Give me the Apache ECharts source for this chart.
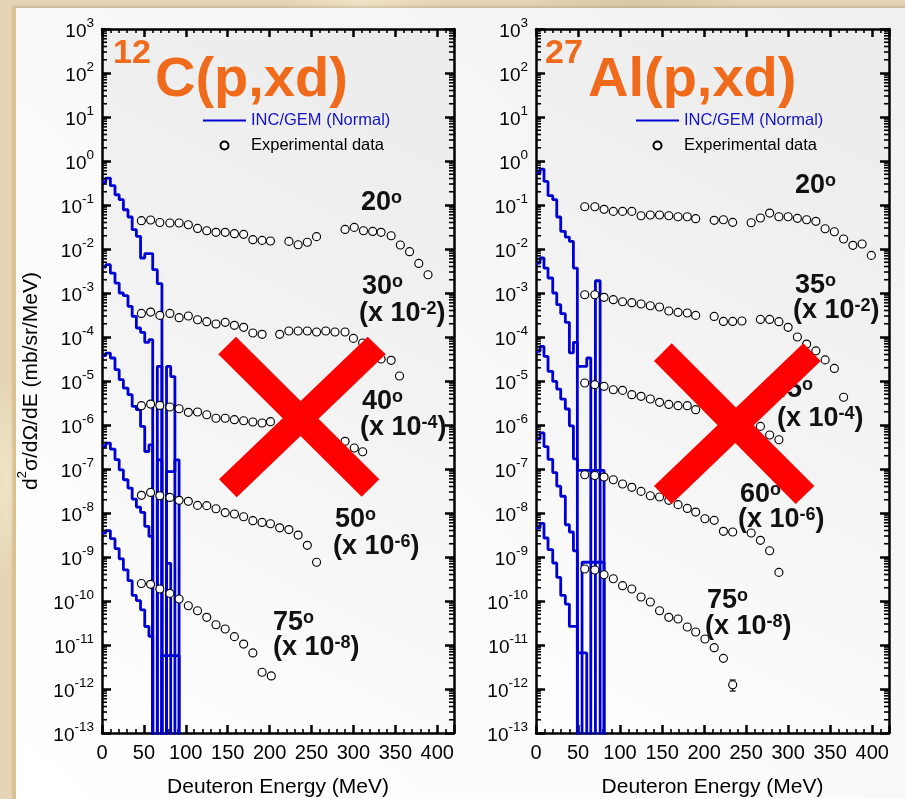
<!DOCTYPE html>
<html>
<head>
<meta charset="utf-8">
<script src="https://cdn.jsdelivr.net/npm/echarts@6/dist/echarts.min.js"></script>
<style>
html,body{margin:0;padding:0;width:905px;height:799px;overflow:hidden;}
body{background:#e5d5b4;
 background-image:
  radial-gradient(circle at 12% 18%, rgba(255,250,235,.55) 0, rgba(255,250,235,0) 9%),
  radial-gradient(circle at 70% 4%, rgba(200,180,140,.45) 0, rgba(200,180,140,0) 12%),
  radial-gradient(circle at 3% 60%, rgba(250,240,215,.6) 0, rgba(250,240,215,0) 10%),
  radial-gradient(circle at 40% 1%, rgba(245,235,210,.6) 0, rgba(245,235,210,0) 8%);}
#card{position:absolute;left:13px;top:8px;width:892px;height:791px;
 border-left:3px solid #dcc08e;
 background:linear-gradient(to top right,#ffffff 0%,#fbfbfb 40%,#f0f0f0 100%);
 box-shadow:0 -1px 3px rgba(120,100,60,.35);}
#chart{position:absolute;left:0;top:0;width:905px;height:799px;}
</style>
</head>
<body>
<div id="card"></div>
<div id="chart"></div>
<script>
// ---------------- tick labels ----------------
const xTickLabels = [0, 50, 100, 150, 200, 250, 300, 350, 400];
const yDecadeMin = -13;          // 10^-13
const yDecadeMax = 3;            // 10^3
const yMinorMantissas = [2, 3, 4, 5, 6, 7, 8, 9];

// ---------------- 12C(p,xd) : INC/GEM histograms ----------------
const L_binEdges = [0, 4.5, 10, 15.5, 20.5, 25.5, 31, 36, 41, 46, 51, 56, 60.5, 66, 71.5, 77, 82, 87, 92];
const L_hist20 = [0.327, 0.41, 0.275, 0.171, 0.132, 0.078, 0.0533, 0.0275, 0.0194, 0.00624, 0.00782, 0.00782, 0.00339, 0.00163, 0, 0, 0, 0];
const L_hist30 = [3.89e-3, 4.4e-3, 2.84e-3, 1.68e-3, 1.0e-3, 8.7e-4, 4.97e-4, 2.94e-4, 1.6e-4, 1.27e-4, 7.55e-5, 8.7e-5, 0, 2.14e-5, 0, 2.14e-5, 1.26e-5, 0];
const L_hist40 = [3.76e-5, 4.32e-5, 3.33e-5, 1.81e-5, 1.07e-5, 6.9e-6, 4.89e-6, 2.65e-6, 2.23e-6, 9.3e-7, 2.5e-7, 3.55e-7, 0, 1.62e-7, 0, 8.7e-8, 8.7e-8, 1.62e-7];
const L_hist50 = [3.27e-7, 3.89e-7, 2.84e-7, 1.63e-7, 9.6e-8, 5.7e-8, 3.69e-8, 2.07e-8, 1.36e-8, 1.03e-8, 4.97e-9, 2.94e-9, 0, 0, 0, 7.2e-10, 0, 0];
const L_hist75 = [3.5e-9, 3.98e-9, 2.61e-9, 1.55e-9, 9.1e-10, 5.1e-10, 2.89e-10, 1.34e-10, 1.02e-10, 6.3e-11, 2.63e-11, 1.58e-11, 0, 0, 5.75e-12, 5.75e-12, 5.75e-12, 5.75e-12];

// ---------------- 12C(p,xd) : experimental data ----------------
const L_E20 = [47, 58, 69, 81, 92, 103, 114, 125, 136, 147, 158, 169, 180, 191, 201, 223, 234, 245, 256, 290, 301, 312, 323, 333, 345, 356, 367, 378, 389];
const L_V20 = [0.044, 0.0455, 0.040, 0.039, 0.039, 0.0356, 0.0294, 0.026, 0.0239, 0.0239, 0.0223, 0.0215, 0.0163, 0.0157, 0.0152, 0.0149, 0.0125, 0.0142, 0.0191, 0.0279, 0.031, 0.026, 0.0251, 0.0239, 0.020, 0.0123, 0.0087, 0.0047, 0.0026];
const L_E30 = [47, 58, 69, 81, 92, 103, 114, 125, 136, 147, 158, 169, 180, 191, 212, 223, 234, 245, 256, 267, 278, 290, 300, 311, 333, 345, 355];
const L_V30 = [3.44e-4, 3.69e-4, 3.10e-4, 3.44e-4, 2.75e-4, 3.0e-4, 2.47e-4, 2.23e-4, 1.97e-4, 2.15e-4, 1.84e-4, 1.66e-4, 1.23e-4, 1.15e-4, 1.15e-4, 1.37e-4, 1.37e-4, 1.37e-4, 1.30e-4, 1.37e-4, 1.30e-4, 1.30e-4, 9.3e-5, 7.3e-5, 3.16e-5, 2.95e-5, 1.30e-5];
const L_E40 = [47, 58, 69, 81, 92, 103, 114, 125, 136, 147, 158, 169, 180, 191, 201, 290, 301, 311];
const L_V40 = [2.75e-6, 2.99e-6, 2.79e-6, 2.56e-6, 2.34e-6, 1.94e-6, 1.97e-6, 1.71e-6, 1.42e-6, 1.42e-6, 1.32e-6, 1.25e-6, 1.17e-6, 1.11e-6, 1.19e-6, 4.25e-7, 3.0e-7, 2.47e-7];
const L_E50 = [47, 58, 69, 81, 92, 103, 114, 125, 136, 147, 158, 169, 180, 191, 201, 212, 223, 234, 245, 256];
const L_V50 = [2.52e-8, 2.94e-8, 2.47e-8, 2.26e-8, 1.94e-8, 1.84e-8, 1.49e-8, 1.47e-8, 1.25e-8, 1.02e-8, 9.5e-9, 8.2e-9, 6.7e-9, 6.1e-9, 5.7e-9, 4.6e-9, 4.2e-9, 3.15e-9, 1.84e-9, 7.6e-10];
const L_E75 = [47, 58, 69, 81, 92, 103, 114, 125, 136, 147, 158, 169, 180, 191, 202];
const L_V75 = [2.5e-10, 2.39e-10, 1.87e-10, 1.49e-10, 1.11e-10, 7.8e-11, 6.0e-11, 4.25e-11, 2.89e-11, 2.31e-11, 1.55e-11, 1.05e-11, 6.6e-12, 2.4e-12, 1.98e-12];

// ---------------- 27Al(p,xd) : INC/GEM histograms ----------------
const R_binEdges = [0, 4.8, 9.5, 14.3, 19.9, 24.7, 29.4, 34.9, 39.7, 44.5, 49.2, 54.8, 60.4, 65.2, 70.7, 76.3, 81];
const R_hist20 = [0.533, 0.656, 0.344, 0.163, 0.132, 0.0533, 0.0252, 0.0187, 0.0149, 0.00369, 0, 0, 0, 0, 0.0019, 0];
const R_hist35 = [4.8e-3, 6.24e-3, 3.69e-3, 2.19e-3, 1.0e-3, 5.42e-4, 3.39e-4, 2.15e-4, 4.37e-5, 7.55e-5, 2.15e-5, 2.15e-5, 3.33e-5, 0, 0, 0];
const R_hist45 = [4.72e-5, 6.12e-5, 3.63e-5, 1.66e-5, 9.8e-6, 6.56e-6, 3.89e-6, 2.31e-6, 9.6e-7, 1.69e-7, 9.3e-8, 9.3e-8, 9.3e-8, 9.3e-8, 9.3e-8, 9.3e-8];
const R_hist60 = [4.8e-7, 6.6e-7, 3.24e-7, 1.66e-7, 8.3e-8, 4.07e-8, 2.4e-8, 5.4e-9, 3.7e-9, 1.38e-9, 0, 7.6e-10, 7.6e-10, 7.6e-10, 7.6e-10, 7.6e-10];
const R_hist75 = [4.55e-9, 5.8e-9, 2.7e-9, 1.47e-9, 7.3e-10, 3.44e-10, 1.34e-10, 8.5e-11, 2.65e-11, 2.65e-11, 6.6e-12, 6.6e-12, 0, 0, 0, 0];

// ---------------- 27Al(p,xd) : experimental data ----------------
const R_E20 = [58, 70, 81, 92, 103, 114, 125, 136, 147, 158, 169, 180, 190, 212, 223, 234, 256, 267, 278, 289, 300, 311, 322, 333, 344, 355, 366, 377, 388, 399];
const R_V20 = [0.0914, 0.0914, 0.0796, 0.0716, 0.0716, 0.0716, 0.0571, 0.0592, 0.0592, 0.0571, 0.0542, 0.0542, 0.0489, 0.0448, 0.0463, 0.0403, 0.0396, 0.0506, 0.0656, 0.0542, 0.0542, 0.0497, 0.0463, 0.0425, 0.0289, 0.0247, 0.0169, 0.0121, 0.0130, 0.00716];
const R_E35 = [58, 70, 81, 92, 103, 114, 125, 136, 147, 158, 169, 180, 190, 212, 223, 234, 245, 267, 278, 289, 300, 311, 322, 333, 344, 355, 366];
const R_V35 = [9.14e-4, 9.14e-4, 7.96e-4, 7.05e-4, 6.34e-4, 6.03e-4, 5.61e-4, 5.14e-4, 4.80e-4, 3.89e-4, 3.63e-4, 3.51e-4, 3.10e-4, 2.94e-4, 2.26e-4, 2.26e-4, 2.31e-4, 2.51e-4, 2.51e-4, 2.23e-4, 1.66e-4, 1.0e-4, 6.9e-5, 4.84e-5, 3.02e-5, 1.93e-5, 4.27e-6];
const R_E45 = [58, 70, 81, 92, 103, 114, 125, 136, 147, 158, 169, 180, 190, 267, 278, 289];
const R_V45 = [9.0e-6, 8.24e-6, 7.55e-6, 6.34e-6, 6.12e-6, 4.89e-6, 4.48e-6, 3.89e-6, 3.27e-6, 2.94e-6, 2.75e-6, 2.75e-6, 2.23e-6, 9.3e-7, 5.93e-7, 4.63e-7];
const R_E60 = [58, 70, 81, 92, 103, 114, 125, 136, 147, 158, 169, 180, 190, 201, 212, 223, 234, 256, 267, 278, 289];
const R_V60 = [7.4e-8, 7.1e-8, 6.56e-8, 5.71e-8, 4.55e-8, 3.83e-8, 3.10e-8, 2.47e-8, 2.31e-8, 1.94e-8, 1.55e-8, 1.27e-8, 1.05e-8, 7.4e-9, 6.8e-9, 3.83e-9, 3.70e-9, 3.51e-9, 2.39e-9, 1.39e-9, 4.47e-10];
const R_E75 = [58, 70, 81, 92, 103, 114, 125, 136, 147, 158, 169, 180, 190, 201, 212, 223, 234];
const R_V75 = [5.33e-10, 5.06e-10, 3.96e-10, 3.21e-10, 2.23e-10, 1.87e-10, 1.23e-10, 9.5e-11, 6.0e-11, 4.25e-11, 3.89e-11, 2.56e-11, 1.97e-11, 1.37e-11, 8.7e-12, 4.97e-12, 1.25e-12];
const R_errE = [234];
const R_errLo = [0.9e-12];
const R_errHi = [1.6e-12];

// ---------------- styling ----------------
const FONT = "'Liberation Sans', Arial, Helvetica, sans-serif";
const BLUE = '#0000d4';
const ORANGE = '#f06a1c';
const EMPTY_BIN = 1e-17; // empty bins fall below the axis floor (clipped)

function histPoints(edges, vals) {
  const pts = [];
  for (let i = 0; i < vals.length; i++) {
    const v = vals[i] > 0 ? vals[i] : EMPTY_BIN;
    pts.push([edges[i], v], [edges[i + 1], v]);
  }
  pts.push([edges[vals.length], EMPTY_BIN]);
  return pts;
}
function pairs(xs, ys) { return xs.map((x, i) => [x, ys[i]]); }

// axis index layout: x [L-bottom, L-top, R-bottom, R-top]; y [L-log, L-left, L-right, R-log, R-left, R-right]
function histSeries(xi, yi, edges, vals) {
  return {
    type: 'line', name: 'INC/GEM (Normal)', xAxisIndex: xi, yAxisIndex: yi,
    data: histPoints(edges, vals), symbol: 'none', showSymbol: false, clip: true,
    lineStyle: {color: BLUE, width: 2.8}, itemStyle: {color: BLUE}, z: 2, silent: true
  };
}
function dataSeries(xi, yi, xs, ys) {
  return {
    type: 'scatter', name: 'Experimental data', xAxisIndex: xi, yAxisIndex: yi,
    data: pairs(xs, ys), symbol: 'circle', symbolSize: 8, clip: true,
    itemStyle: {color: '#ffffff', borderColor: '#000', borderWidth: 1.15, opacity: 1}, z: 3, silent: true
  };
}
// log-spaced minor ticks (2..9 x 10^k) placed through the log axis
const minorTickValues = [];
for (let k = yDecadeMin; k < yDecadeMax; k++) {
  yMinorMantissas.forEach(m => minorTickValues.push([0, m * Math.pow(10, k)]));
}
function minorTickSeries(xi, yi) {
  return {
    type: 'custom', xAxisIndex: xi, yAxisIndex: yi, z: 4, silent: true, clip: false,
    data: minorTickValues,
    renderItem: function (params, api) {
      const cs = params.coordSys;
      const y = api.coord([0, api.value(1)])[1];
      const st = {stroke: '#000', lineWidth: 1.6};
      return {type: 'group', children: [
        {type: 'line', shape: {x1: cs.x, y1: y, x2: cs.x + 5, y2: y}, style: st},
        {type: 'line', shape: {x1: cs.x + cs.width, y1: y, x2: cs.x + cs.width - 5, y2: y}, style: st}
      ]};
    }
  };
}

function xAxisPair(gi) {
  const mk = (pos) => ({
    gridIndex: gi, type: 'value', min: 0, max: 420, interval: 50, position: pos,
    axisLine: {show: true, onZero: false, lineStyle: {color: '#000', width: 2.5}},
    axisTick: {show: true, inside: true, length: 8, lineStyle: {color: '#000', width: 2.5}},
    minorTick: {show: true, splitNumber: 5, length: 4, lineStyle: {color: '#000', width: 1.6}},
    splitLine: {show: false}, minorSplitLine: {show: false}
  });
  const bottom = mk('bottom');
  bottom.axisLabel = {show: true, margin: 10, fontSize: 20, fontFamily: FONT, color: '#000',
    formatter: v => xTickLabels.indexOf(v) >= 0 ? String(v) : ''};
  bottom.name = 'Deuteron Energy (MeV)';
  bottom.nameLocation = 'middle';
  bottom.nameGap = 44;
  bottom.nameTextStyle = {fontSize: 21, fontFamily: FONT, color: '#000'};
  const top = mk('top');
  top.axisLabel = {show: false};
  return [bottom, top];
}

function yAxisSet(gi, withName) {
  // data axis (log scale) – carries the series, drawn invisibly
  const logAxis = {gridIndex: gi, type: 'log', logBase: 10, min: Math.pow(10, yDecadeMin), max: Math.pow(10, yDecadeMax), show: false};
  // decade axes (exponent units, same span) – draw the frame, decade ticks and labels
  const mk = (pos) => ({
    gridIndex: gi, type: 'value', min: yDecadeMin, max: yDecadeMax, interval: 1, position: pos,
    axisLine: {show: true, onZero: false, lineStyle: {color: '#000', width: 2.5}},
    axisTick: {show: true, inside: true, length: 9, lineStyle: {color: '#000', width: 2.5}},
    minorTick: {show: false}, splitLine: {show: false}, minorSplitLine: {show: false}
  });
  const left = mk('left');
  left.axisLabel = {show: true, margin: 8,
    formatter: v => '{b|10}{s|' + v + '}',
    rich: {
      b: {fontSize: 19, fontFamily: FONT, color: '#000', padding: [6, 0, 0, 0]},
      s: {fontSize: 13.5, fontFamily: FONT, color: '#000', verticalAlign: 'top'}
    }};
  if (withName) {
    left.name = '{n|d}{s|2}{n|σ/dΩ/dE (mb/sr/MeV)}';
    left.nameLocation = 'middle';
    left.nameGap = 60;
    left.nameTextStyle = {rich: {
      n: {fontSize: 21, fontFamily: FONT, color: '#000', padding: [5, 0, 0, 0]},
      s: {fontSize: 13, fontFamily: FONT, color: '#000', verticalAlign: 'top'}
    }};
  }
  const right = mk('right');
  right.axisLabel = {show: false};
  return [logAxis, left, right];
}

const plotBg = {type: 'linear', x: 1, y: 0, x2: 0, y2: 1,
  colorStops: [{offset: 0, color: '#ebebeb'}, {offset: 0.55, color: '#f4f4f4'}, {offset: 1, color: '#ffffff'}]};

// ---------- overlay texts ----------
const labMain = {fontSize: 27, fontWeight: 'bold', fontFamily: FONT, fill: '#111', color: '#111', lineHeight: 28};
const labSup = {fontSize: 18, fontWeight: 'bold', fontFamily: FONT, fill: '#111', color: '#111', verticalAlign: 'top', lineHeight: 10};
function richText(x, y, text, main, sup, z) {
  return {type: 'text', z: z || 50, silent: true, x: x, y: y,
    style: {text: text, x: 0, y: 0, align: 'left', verticalAlign: 'middle',
      textAlign: 'left', textVerticalAlign: 'middle', rich: {m: main, s: sup}}};
}
function angle(x, y, deg) { return richText(x, y, '{m|' + deg + '}{s|o}', labMain, labSup); }
function factor(x, y, exp) { return richText(x, y, '{m|(x 10}{s|' + exp + '}{m|)}', labMain, labSup); }

const titleMain = {fontSize: 56, fontWeight: 'bold', fill: ORANGE};
const titleSup = {fontSize: 34, fontWeight: 'bold', fill: ORANGE};
function plainText(x, y, text, st) {
  return {type: 'text', z: 50, silent: true, x: x, y: y,
    style: {text: text, x: 0, y: 0, align: 'left', verticalAlign: 'middle',
      textAlign: 'left', textVerticalAlign: 'middle',
      font: st.fontWeight + ' ' + st.fontSize + 'px ' + FONT, fill: st.fill}};
}
function cross(p1, p2) {
  return [
    {type: 'polygon', z: 100, silent: true, shape: {points: p1}, style: {fill: '#ff0000'}},
    {type: 'polygon', z: 100, silent: true, shape: {points: p2}, style: {fill: '#ff0000'}}
  ];
}

const graphics = [
  plainText(113, 54, '12', titleSup), plainText(155, 81, 'C(p,xd)', titleMain),
  plainText(545, 54, '27', titleSup), plainText(588, 81, 'Al(p,xd)', titleMain),
  angle(361, 203, '20'),
  angle(362, 287, '30'), factor(359, 314, '-2'),
  angle(362, 402, '40'), factor(360, 428, '-4'),
  angle(335, 520, '50'), factor(333, 547, '-6'),
  angle(273, 623, '75'), factor(273, 648, '-8'),
  angle(795, 186, '20'),
  angle(795, 286, '35'), factor(793, 311, '-2'),
  angle(772, 390, '45'), factor(777, 419, '-4'),
  angle(740, 495, '60'), factor(738, 520, '-6'),
  angle(707, 601, '75'), factor(705, 627, '-8')
].concat(
  cross([[236, 336.7], [379.3, 479.3], [361.7, 496.7], [218.3, 354.3]],
        [[367.7, 336.7], [385.7, 354.3], [236.7, 497.3], [219, 479.3]]),
  cross([[671.7, 343.3], [814.3, 486], [795.7, 504], [654, 361]],
        [[803.3, 343.3], [820.7, 361], [671.7, 504], [654, 486]])
);

const legendCommon = {
  orient: 'vertical', top: 112, padding: 0, itemGap: 8, itemWidth: 43, itemHeight: 8,
  selectedMode: false, textStyle: {fontFamily: FONT, fontSize: 16.5, color: '#000'},
  data: [
    {name: 'INC/GEM (Normal)', textStyle: {color: '#1414c8'}, itemStyle: {opacity: 0, borderWidth: 0, color: 'transparent'}},
    {name: 'Experimental data'}
  ]
};

const option = {
  animation: false,
  backgroundColor: 'transparent',
  grid: [
    {left: 102, top: 29, width: 352, height: 704, show: true, borderWidth: 0, backgroundColor: plotBg,
     containLabel: false, outerBoundsMode: 'none'},
    {left: 536, top: 29, width: 353, height: 704, show: true, borderWidth: 0, backgroundColor: plotBg,
     containLabel: false, outerBoundsMode: 'none'}
  ],
  xAxis: xAxisPair(0).concat(xAxisPair(1)),
  yAxis: yAxisSet(0, true).concat(yAxisSet(1, false)),
  legend: [Object.assign({left: 202}, legendCommon), Object.assign({left: 635}, legendCommon)],
  graphic: {elements: graphics},
  series: [
    minorTickSeries(0, 0), minorTickSeries(2, 3),
    histSeries(0, 0, L_binEdges, L_hist20), histSeries(0, 0, L_binEdges, L_hist30),
    histSeries(0, 0, L_binEdges, L_hist40), histSeries(0, 0, L_binEdges, L_hist50),
    histSeries(0, 0, L_binEdges, L_hist75),
    dataSeries(0, 0, L_E20, L_V20), dataSeries(0, 0, L_E30, L_V30), dataSeries(0, 0, L_E40, L_V40),
    dataSeries(0, 0, L_E50, L_V50), dataSeries(0, 0, L_E75, L_V75),
    histSeries(2, 3, R_binEdges, R_hist20), histSeries(2, 3, R_binEdges, R_hist35),
    histSeries(2, 3, R_binEdges, R_hist45), histSeries(2, 3, R_binEdges, R_hist60),
    histSeries(2, 3, R_binEdges, R_hist75),
    {
      type: 'custom', name: 'error', xAxisIndex: 2, yAxisIndex: 3, z: 2, silent: true,
      data: R_errE.map((e, i) => [e, R_errLo[i], R_errHi[i]]),
      renderItem: function (params, api) {
        const lo = api.coord([api.value(0), api.value(1)]);
        const hi = api.coord([api.value(0), api.value(2)]);
        const st = {stroke: '#000', lineWidth: 1.2};
        return {type: 'group', children: [
          {type: 'line', shape: {x1: lo[0], y1: lo[1], x2: hi[0], y2: hi[1]}, style: st},
          {type: 'line', shape: {x1: lo[0] - 3, y1: lo[1], x2: lo[0] + 3, y2: lo[1]}, style: st},
          {type: 'line', shape: {x1: hi[0] - 3, y1: hi[1], x2: hi[0] + 3, y2: hi[1]}, style: st}
        ]};
      }
    },
    dataSeries(2, 3, R_E20, R_V20), dataSeries(2, 3, R_E35, R_V35), dataSeries(2, 3, R_E45, R_V45),
    dataSeries(2, 3, R_E60, R_V60), dataSeries(2, 3, R_E75, R_V75)
  ]
};

const chart = echarts.init(document.getElementById('chart'), null, {renderer: 'canvas', width: 905, height: 799});
chart.setOption(option);
</script>
</body>
</html>
